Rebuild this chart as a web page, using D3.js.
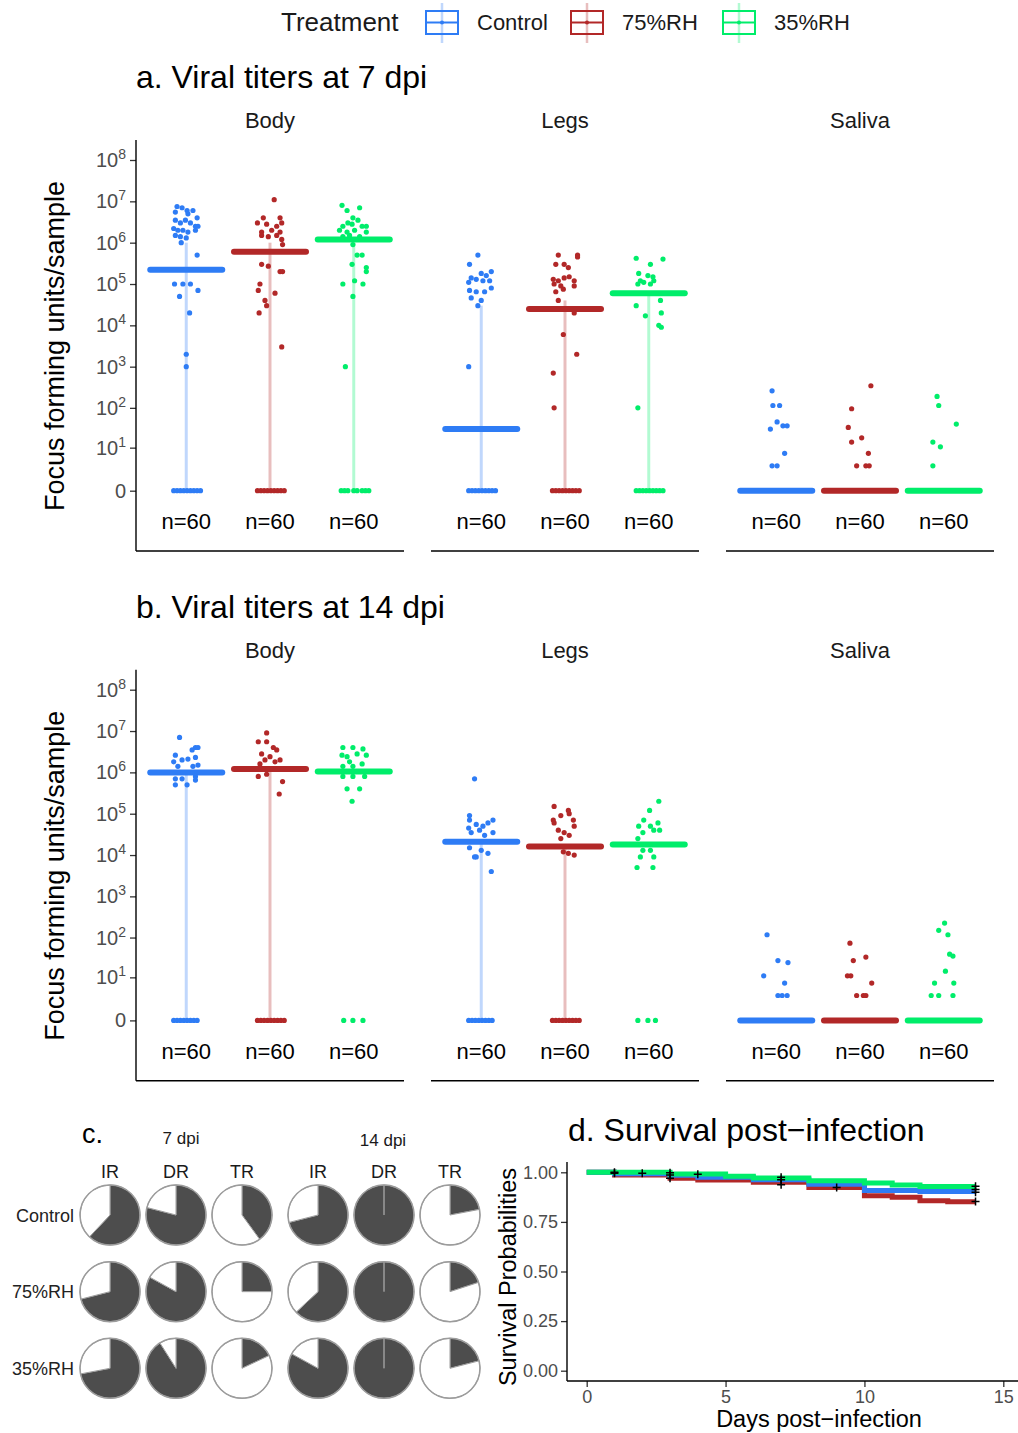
<!DOCTYPE html>
<html><head><meta charset="utf-8">
<script src="https://cdn.jsdelivr.net/npm/d3@7"></script>
<style>body{margin:0;background:#fff} svg text{font-family:"Liberation Sans",Arial,sans-serif}</style>
</head><body><svg id="c" width="1018" height="1433"></svg>
<script>
// ---------------- DATA ----------------
const treatments = ["Control", "75%RH", "35%RH"];
const treatmentColors = ["#2E7CF5", "#B22828", "#00ED6A"];
const tissues = ["Body", "Legs", "Saliva"];
const titerTicks = [0, 1e1, 1e2, 1e3, 1e4, 1e5, 1e6, 1e7, 1e8];
const sampleSize = [60, 60, 60];

// medians [tissue][treatment]
const median7 = [[2.2e5, 6e5, 1.2e6], [30, 2.5e4, 6e4], [0, 0, 0]];
const median14 = [[1e6, 1.2e6, 1.05e6], [2.1e4, 1.6e4, 1.8e4], [0, 0, 0]];
// upper end of the light vertical range line (null = no line)
const rangeHigh7 = [[1e6, 1e6, 1e6], [3e4, 4e4, 6e4], [null, null, null]];
const rangeHigh14 = [[1e6, 1.2e6, null], [2e4, 1.6e4, null], [null, null, null]];

// points: [value, jitter (fraction of category step)]
const zerosWide = [[0,-0.15],[0,-0.11],[0,-0.07],[0,-0.03],[0,0.01],[0,0.05],[0,0.09],[0,0.13],[0,0.17]];
const pts7Body = [
  [[7.5e6,-0.11],[7e6,-0.05],[6e6,0.01],[6e6,0.08],[5e6,0.02],[5.5e6,-0.13],[4e6,0.13],[3.5e6,-0.13],[3e6,-0.07],[3.5e6,-0.01],[3e6,0.05],[2.5e6,0.11],[2.5e6,0.14],[2.2e6,-0.15],[2e6,-0.1],[2e6,-0.04],[1.8e6,0.02],[2e6,0.11],[1.5e6,-0.13],[1.4e6,-0.07],[1.3e6,0],[1e6,-0.06],[5e5,0.13],[1e5,-0.14],[1e5,-0.04],[1e5,0.05],[5e4,-0.08],[7e4,0.14],[2e4,0.04],[2e3,0],[1e3,0]].concat(zerosWide),
  [[1.1e7,0.05],[4e6,-0.08],[4e6,0.12],[3e6,-0.15],[2.8e6,-0.04],[2.5e6,0.08],[3e6,0.14],[2e6,0.02],[1.8e6,-0.1],[1.8e6,0.12],[1.5e6,-0.1],[1.4e6,-0.02],[1.5e6,0.08],[1.2e6,0.14],[9e5,0.15],[3e5,-0.1],[2.7e5,-0.02],[2e5,0.12],[2e5,0.15],[1e5,-0.12],[7e4,-0.14],[6e4,0.06],[4e4,-0.06],[3e4,-0.04],[2e4,-0.13],[3e3,0.14]].concat(zerosWide),
  [[8e6,-0.14],[6e6,-0.08],[7e6,0.07],[4e6,-0.01],[3.5e6,0.05],[3e6,-0.07],[2.5e6,-0.13],[2.8e6,-0.02],[2.5e6,0.1],[2.5e6,0.15],[2e6,-0.17],[1.8e6,-0.08],[2e6,0.01],[1.8e6,0.15],[1.4e6,-0.13],[1.5e6,-0.05],[1.4e6,0.07],[9e5,-0.01],[5e5,0.04],[5e5,0.1],[3e5,-0.02],[2.5e5,0.15],[2e5,0.15],[1e5,-0.13],[1.2e5,0.01],[1e5,0.11],[5e4,-0.01],[1e3,-0.1],[0,-0.15],[0,-0.11],[0,-0.07],[0,0],[0,0.04],[0,0.1],[0,0.14],[0,0.18]]
];
const pts7Legs = [
  [[5e5,-0.04],[3e5,-0.14],[1.8e5,0],[2e5,0.12],[1.6e5,0.06],[1.4e5,-0.12],[1.3e5,-0.06],[1.2e5,0.02],[1.2e5,0.1],[1.1e5,-0.15],[8e4,0.12],[7e4,-0.14],[6.5e4,-0.06],[6.5e4,0.04],[4.6e4,-0.12],[4e4,0],[3e4,-0.04],[1e3,-0.15]].concat(zerosWide),
  [[5e5,-0.08],[5e5,0.15],[4.5e5,0.15],[3e5,-0.11],[3e5,-0.01],[2.5e5,0.04],[1.3e5,-0.14],[1.2e5,-0.08],[1.4e5,-0.01],[1.5e5,0.05],[1.2e5,0.11],[1e5,-0.13],[9e4,-0.05],[9e4,0.11],[6.5e4,-0.11],[7.5e4,-0.02],[4e4,-0.08],[2e4,0.11],[6e3,-0.02],[2e3,0.14],[700,-0.14],[100,-0.13]].concat(zerosWide),
  [[4.2e5,-0.15],[3e5,0.02],[4e5,0.17],[1.8e5,-0.12],[1.6e5,-0.01],[1.5e5,0.05],[1.2e5,-0.1],[1.1e5,-0.06],[1.2e5,0.06],[1e5,-0.13],[1e5,0.02],[3e4,-0.15],[4e4,0.14],[1.7e4,-0.04],[2e4,0.15],[1e4,0.12],[9e3,0.15],[100,-0.13]].concat(zerosWide)
];
const pts7Saliva = [
  [[260,-0.05],[114,-0.04],[114,0.04],[45,0.01],[30,-0.07],[36,0.08],[36,0.13],[7,0.1],[3,-0.05],[3,0.01]],
  [[345,0.13],[95,-0.1],[33,-0.14],[14,-0.1],[18,0.02],[7,0.1],[3,-0.04],[3,0.07],[3,0.11]],
  [[190,-0.08],[114,-0.06],[40,0.15],[14,-0.13],[10.5,-0.04],[3,-0.13]]
];
const pts14Body = [
  [[7e6,-0.08],[4e6,0.11],[4e6,0.14],[3.5e6,0.07],[2.6e6,-0.13],[2e6,-0.05],[2.1e6,0.02],[2.3e6,0.11],[1.8e6,-0.15],[1.4e6,-0.1],[1.4e6,0.08],[1.5e6,0.14],[7e5,-0.13],[7e5,-0.05],[6.5e5,0.11],[5e5,-0.13],[5e5,0.01],[8e5,0.11]].concat(zerosWide.slice(0,8)),
  [[9e6,-0.04],[5.5e6,-0.14],[5.5e6,-0.04],[4e6,0.04],[3.5e6,0.08],[2.8e6,-0.1],[2.4e6,0],[2e6,-0.06],[1.6e6,-0.12],[1.8e6,0.06],[2e6,0.12],[8e5,-0.14],[9e5,-0.04],[6e5,0.15],[3e5,0.11]].concat(zerosWide),
  [[4e6,-0.13],[4e6,-0.01],[3.7e6,0.11],[2.6e6,-0.14],[2.4e6,-0.08],[2.8e6,0.04],[2.6e6,0.15],[1.8e6,-0.05],[1.6e6,0.1],[1.4e6,-0.13],[1.4e6,-0.01],[8e5,-0.13],[8e5,-0.01],[8e5,0.13],[4e5,-0.08],[4e5,0.07],[2e5,-0.02],[0,-0.12],[0,-0.01],[0,0.11]]
];
const pts14Legs = [
  [[7e5,-0.08],[9e4,-0.14],[7e4,-0.14],[7e4,0.14],[6e4,0.08],[5.5e4,-0.06],[5e4,0.02],[4.5e4,-0.15],[4e4,-0.02],[3.5e4,0.14],[3.5e4,-0.12],[3e4,0.04],[1.5e4,-0.14],[1.3e4,0],[1.1e4,0.08],[9e3,-0.06],[9e3,-0.08],[4e3,0.12]].concat(zerosWide.slice(0,8)),
  [[1.5e5,-0.13],[1.2e5,0.04],[1e5,0.05],[9e4,-0.05],[7e4,-0.14],[7e4,0.1],[6e4,-0.13],[5e4,0.11],[4e4,-0.08],[3.5e4,-0.01],[3e4,0.05],[2.5e4,-0.05],[1.2e4,-0.02],[1.1e4,0.04],[1e4,0.11]].concat(zerosWide),
  [[2e5,0.12],[1.2e5,0.01],[7e4,-0.06],[6e4,0.11],[5e4,-0.12],[5e4,0.02],[4e4,0.06],[3.5e4,-0.07],[4e4,0.13],[2.5e4,-0.13],[1.3e4,-0.07],[1.3e4,0.02],[9e3,-0.1],[9e3,0.06],[5e3,-0.14],[5e3,0.05],[0,-0.13],[0,-0.01],[0,0.08]]
];
const pts14Saliva = [
  [[117,-0.11],[27,0.02],[24,0.14],[11,-0.15],[7,0.1],[3,0.02],[3,0.07],[3,0.13]],
  [[73,-0.12],[27,-0.08],[33,0.07],[11,-0.15],[11,-0.11],[7,0.14],[3,-0.04],[3,0.04],[3,0.07]],
  [[225,0.01],[150,-0.06],[117,0.05],[39,0.07],[35,0.11],[14.5,0.02],[7,-0.11],[7,0.12],[3,-0.15],[3,-0.06],[3,0.11]]
];

// panel c: rates [treatment]
const rateColumns = ["IR", "DR", "TR"];
const irRate7 = [0.62, 0.71, 0.72];
const drRate7 = [0.79, 0.83, 0.91];
const trRate7 = [0.40, 0.25, 0.18];
const irRate14 = [0.71, 0.63, 0.83];
const drRate14 = [1, 1, 1];
const trRate14 = [0.22, 0.20, 0.21];

// panel d: survival steps [day, probability]
const survControl = [[0,1],[1,0.993],[3,0.985],[4,0.975],[6,0.963],[8,0.94],[10,0.908],[12,0.903],[14,0.903]];
const surv75 = [[0,1],[1,0.987],[3,0.97],[4,0.961],[6,0.95],[8,0.924],[10,0.882],[11,0.874],[12,0.857],[13,0.852],[14,0.852]];
const surv35 = [[0,1],[3,0.992],[5,0.98],[6,0.971],[8,0.958],[10,0.946],[11,0.936],[12,0.928],[14,0.928]];
const censorDays = [1, 1, 2, 3, 3, 3, 4, 7, 7, 7, 9, 14, 14, 14, 14];
const censorProbs = [1, 0.995, 0.995, 0.998, 0.987, 0.97, 0.99, 0.975, 0.963, 0.937, 0.924, 0.93, 0.913, 0.9, 0.853];
const dayTicks = [0, 5, 10, 15];
const probTicks = [0, 0.25, 0.5, 0.75, 1];

// ---------------- DRAW ----------------
const svg = d3.select("#c");
const TXT = "#1A1A1A", TICK = "#4D4D4D";

// legend
const leg = svg.append("g");
leg.append("text").attr("x", 281).attr("y", 31).attr("font-size", 26).attr("fill", TXT).text("Treatment");
const legX = [425, 570, 722];
treatments.forEach((t, i) => {
  const g = leg.append("g").attr("transform", `translate(${legX[i]},0)`);
  const c = treatmentColors[i];
  g.append("line").attr("x1", 17).attr("x2", 17).attr("y1", 3).attr("y2", 43).attr("stroke", c).attr("stroke-opacity", 0.3).attr("stroke-width", 2.5);
  g.append("rect").attr("x", 1).attr("y", 11).attr("width", 32).attr("height", 23).attr("fill", "none").attr("stroke", c).attr("stroke-width", 2);
  g.append("line").attr("x1", 1).attr("x2", 33).attr("y1", 22.5).attr("y2", 22.5).attr("stroke", c).attr("stroke-width", 2);
  g.append("circle").attr("cx", 17).attr("cy", 22.5).attr("r", 2).attr("fill", c);
  g.append("text").attr("x", 52).attr("y", 30).attr("font-size", 22).attr("fill", TXT).text(t);
});

function titerPanel(off, title, ptsByTissue, medians, rangeHigh) {
  const g = svg.append("g");
  g.append("text").attr("x", 136).attr("y", 88 + off).attr("font-size", 32).attr("fill", "#000").text(title);
  const y = d3.scaleSymlog().constant(1).domain([0, 1e8]).range([490.7 + off, 160 + off]);
  const facetX = [136, 431, 726];
  tissues.forEach((tis, ti) => {
    const fx = facetX[ti];
    const x = d3.scalePoint().domain(treatments).range([fx, fx + 268]).padding(0.6);
    const step = x.step();
    g.append("text").attr("x", fx + 134).attr("y", 128 + off).attr("text-anchor", "middle")
      .attr("font-size", 22).attr("fill", TXT).text(tis);
    g.append("line").attr("x1", fx).attr("x2", fx + 268).attr("y1", 551 + off).attr("y2", 551 + off)
      .attr("stroke", "#000").attr("stroke-width", 1.4);
    treatments.forEach((t, k) => {
      const cx = x(t), col = treatmentColors[k];
      const hi = rangeHigh[ti][k];
      if (hi !== null) {
        g.append("line").attr("x1", cx).attr("x2", cx).attr("y1", y(0)).attr("y2", y(hi))
          .attr("stroke", col).attr("stroke-opacity", 0.3).attr("stroke-width", 3);
      }
      g.append("line").attr("x1", cx - 0.43 * step).attr("x2", cx + 0.43 * step)
        .attr("y1", y(medians[ti][k])).attr("y2", y(medians[ti][k]))
        .attr("stroke", col).attr("stroke-width", 6).attr("stroke-linecap", "round");
      g.selectAll(null).data(ptsByTissue[ti][k]).enter().append("circle")
        .attr("cx", d => cx + d[1] * step).attr("cy", d => y(d[0])).attr("r", 2.6).attr("fill", col);
      g.append("text").attr("x", cx).attr("y", 529 + off).attr("text-anchor", "middle")
        .attr("font-size", 22).attr("fill", "#000").text("n=" + sampleSize[k]);
    });
  });
  // y axis
  const ax = g.append("g").attr("transform", "translate(136,0)")
    .call(d3.axisLeft(y).tickValues(titerTicks).tickSize(6).tickFormat(""));
  ax.select(".domain").remove();
  ax.selectAll(".tick line").attr("stroke", "#333").attr("stroke-width", 1.3);
  g.append("line").attr("x1", 136).attr("x2", 136).attr("y1", 140 + off).attr("y2", 551 + off)
    .attr("stroke", "#000").attr("stroke-width", 1.4);
  titerTicks.forEach(v => {
    const t = g.append("text").attr("x", 126).attr("y", y(v) + 7).attr("text-anchor", "end")
      .attr("font-size", 20).attr("fill", TICK);
    if (v === 0) t.text("0");
    else {
      t.append("tspan").text("10");
      t.append("tspan").attr("dy", -8).attr("font-size", 14).text(Math.round(Math.log10(v)));
    }
  });
  g.append("text").attr("transform", `translate(64,${346 + off}) rotate(-90)`).attr("text-anchor", "middle")
    .attr("font-size", 27).attr("fill", "#000").text("Focus forming units/sample");
}
titerPanel(0, "a. Viral titers at 7 dpi", [pts7Body, pts7Legs, pts7Saliva], median7, rangeHigh7);
titerPanel(529.7, "b. Viral titers at 14 dpi", [pts14Body, pts14Legs, pts14Saliva], median14, rangeHigh14);

// ---------------- panel c ----------------
const gc = svg.append("g");
gc.append("text").attr("x", 82).attr("y", 1143).attr("font-size", 27).attr("fill", "#000").text("c.");
gc.append("text").attr("x", 181).attr("y", 1144).attr("text-anchor", "middle").attr("font-size", 17).attr("fill", TXT).text("7 dpi");
gc.append("text").attr("x", 383).attr("y", 1146).attr("text-anchor", "middle").attr("font-size", 17).attr("fill", TXT).text("14 dpi");
const pieCols = [irRate7, drRate7, trRate7, irRate14, drRate14, trRate14];
const colLabels = rateColumns.concat(rateColumns);
const colX = d3.scalePoint().domain(d3.range(6)).range([110, 450]);
const colXs = [110, 176, 242, 318, 384, 450];
const rowY = d3.scalePoint().domain(treatments).range([1215, 1368.3]);
const arc = d3.arc().innerRadius(0).outerRadius(30);
const pie = d3.pie().sort(null).value(d => d);
colLabels.forEach((lab, ci) => {
  gc.append("text").attr("x", colXs[ci]).attr("y", 1178).attr("text-anchor", "middle").attr("font-size", 18).attr("fill", TXT).text(lab);
});
treatments.forEach((t, ri) => {
  gc.append("text").attr("x", 74).attr("y", rowY(t) + 6.5).attr("text-anchor", "end").attr("font-size", 18).attr("fill", "#222").text(t);
  pieCols.forEach((rates, ci) => {
    const p = rates[ri];
    const pg = gc.append("g").attr("transform", `translate(${colXs[ci]},${rowY(t)})`);
    pg.append("circle").attr("r", 30).attr("fill", "#fff");
    pg.selectAll(null).data(pie([p, 1 - p])).enter().append("path").attr("d", arc)
      .attr("fill", (d, i) => i === 0 ? "#4D4D4D" : "#fff").attr("stroke", "#9C9C9C").attr("stroke-width", 1);
    pg.append("circle").attr("r", 30).attr("fill", "none").attr("stroke", "#9C9C9C").attr("stroke-width", 1.5);
  });
});

// ---------------- panel d ----------------
const gd = svg.append("g");
gd.append("text").attr("x", 568).attr("y", 1141).attr("font-size", 32).attr("fill", "#000").text("d. Survival post\u2212infection");
const sx = d3.scaleLinear().domain([0, 15]).range([586.7, 1003.3]);
const sy = d3.scaleLinear().domain([0, 1]).range([1370.7, 1172.3]);
const ayd = gd.append("g").attr("transform", "translate(567,0)")
  .call(d3.axisLeft(sy).tickValues(probTicks).tickSize(6).tickPadding(3).tickFormat(d3.format(".2f")));
const axd = gd.append("g").attr("transform", "translate(0,1381)")
  .call(d3.axisBottom(sx).tickValues(dayTicks).tickSize(6).tickPadding(3));
[ayd, axd].forEach(a => {
  a.select(".domain").remove();
  a.selectAll(".tick line").attr("stroke", "#333").attr("stroke-width", 1.3);
  a.selectAll(".tick text").attr("font-size", 18).attr("fill", TICK).attr("font-family", "Liberation Sans, Arial, sans-serif");
});
gd.append("line").attr("x1", 567).attr("x2", 567).attr("y1", 1162).attr("y2", 1381).attr("stroke", "#000").attr("stroke-width", 1.4);
gd.append("line").attr("x1", 567).attr("x2", 1018).attr("y1", 1381).attr("y2", 1381).attr("stroke", "#000").attr("stroke-width", 1.4);
const stepLine = d3.line().x(d => sx(d[0])).y(d => sy(d[1])).curve(d3.curveStepAfter);
[[surv75, 1], [survControl, 0], [surv35, 2]].forEach(([s, k]) => {
  gd.append("path").attr("d", stepLine(s)).attr("fill", "none").attr("stroke", treatmentColors[k]).attr("stroke-width", 5);
});
censorDays.forEach((d, i) => {
  gd.append("path").attr("transform", `translate(${sx(d)},${sy(censorProbs[i])})`)
    .attr("d", "M-4,0H4M0,-4V4").attr("stroke", "#000").attr("stroke-width", 1.5);
});
gd.append("text").attr("transform", "translate(516,1277) rotate(-90)").attr("text-anchor", "middle")
  .attr("font-size", 23.5).attr("fill", "#000").text("Survival Probabilities");
gd.append("text").attr("x", 819).attr("y", 1427).attr("text-anchor", "middle")
  .attr("font-size", 23.5).attr("fill", "#000").text("Days post\u2212infection");
</script></body></html>
